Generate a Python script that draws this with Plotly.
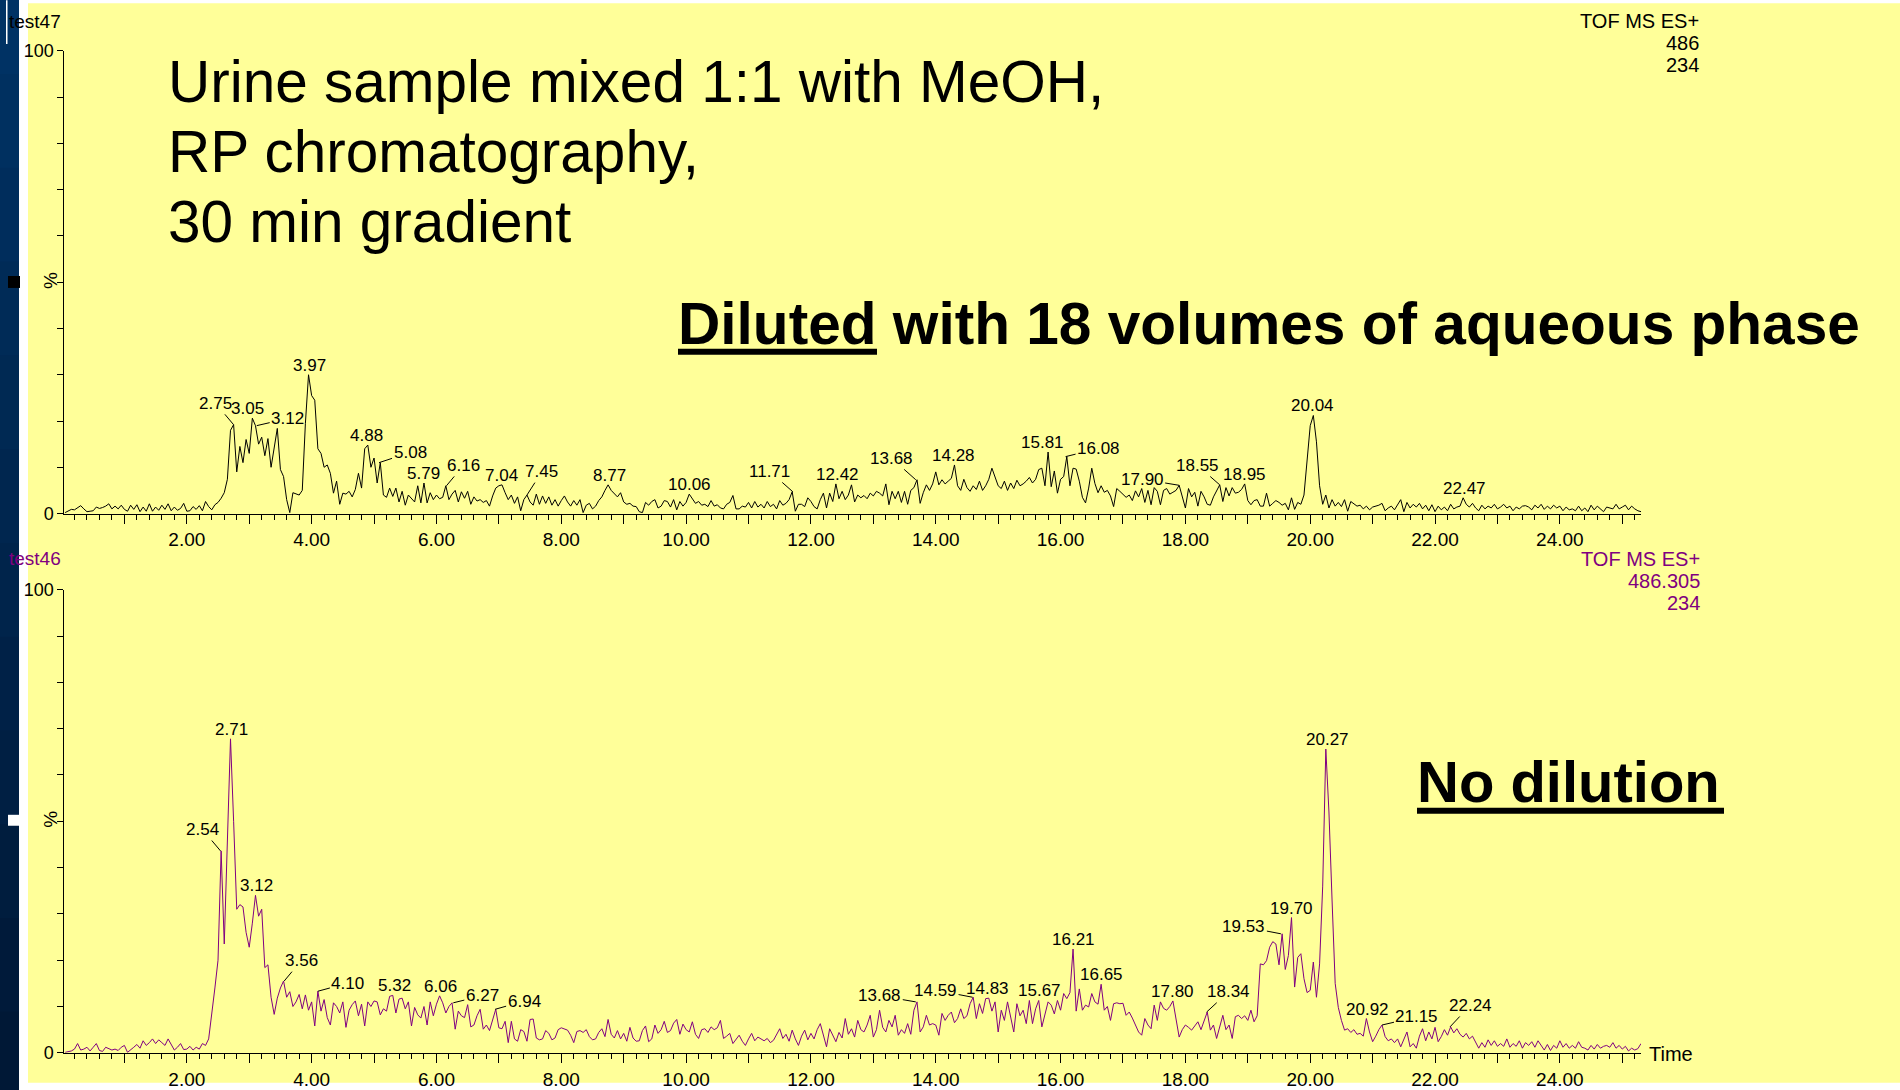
import plotly.graph_objects as go

W, H = 1900, 1090
# measured capture mapping of the page (screen_y = Y_OFF + Y_SCALE * layout_y); compensate it
Y_OFF, Y_SCALE = 9.9, 0.982


def px(x):
    return x / W


def py(y):
    return 1 - ((y - Y_OFF) / Y_SCALE) / H


# ---------------- DATA ----------------
T_START = 0.05
T_STEP = 0.05

# test47 (diluted 1:18) relative intensity, %  (t = 0.05 ... 25.30 min)
top_signal = [
    0.2, 0.5, 0.9, 0.8, 1.2, 1.7, 1.0, 0.4, 0.5, 0.6, 1.4, 1.1, 1.3, 1.6, 2.1, 1.0, 1.6, 1.0, 1.8, 0.9,
    0.5, 1.8, 0.9, 1.9, 0.4, 1.4, 0.5, 2.1, 0.5, 1.4, 0.7, 1.8, 0.9, 2.1, 0.6, 1.4, 0.7, 1.1, 2.2, 0.5,
    0.6, 1.5, 0.9, 1.7, 0.6, 2.6, 1.5, 0.8, 1.9, 2.4, 3.3, 4.5, 7.4, 18.0, 19.2, 9.0, 14.5, 11.0, 16.0, 13.0,
    20.6, 19.0, 15.0, 16.5, 12.5, 16.2, 10.0, 14.0, 18.4, 9.5, 8.0, 3.0, 0.2, 4.5, 4.2, 4.0, 5.0, 19.5, 30.0, 25.5,
    24.5, 14.0, 13.0, 10.0, 10.5, 8.7, 4.4, 7.0, 2.0, 4.4, 4.2, 4.8, 3.6, 5.2, 8.7, 5.5, 14.0, 14.8, 10.0, 12.0,
    6.6, 11.0, 4.0, 3.5, 5.5, 3.7, 5.5, 2.5, 4.8, 1.8, 4.0, 3.2, 2.5, 6.0, 2.3, 6.6, 2.3, 4.5, 3.0, 4.0,
    3.2, 3.5, 6.0, 3.0, 4.2, 5.0, 2.5, 4.7, 3.3, 4.8, 2.0, 3.6, 2.7, 3.0, 2.4, 2.8, 1.6, 3.8, 5.5, 6.0,
    6.2, 4.5, 3.0, 4.0, 2.2, 3.6, 0.6, 3.0, 4.0, 2.5, 1.8, 4.2, 2.0, 3.8, 2.2, 3.6, 1.8, 3.0, 1.6, 2.8,
    3.8, 2.5, 1.6, 2.8, 1.8, 3.0, 0.2, 1.8, 2.2, 1.0, 1.6, 2.8, 3.6, 5.0, 6.2, 5.0, 4.2, 3.6, 4.5, 2.5,
    2.0, 2.2, 1.6, 1.5, 0.4, 0.2, 2.4, 1.8, 2.6, 3.0, 1.2, 1.6, 2.8, 2.6, 1.4, 3.0, 0.8, 2.6, 1.6, 2.4,
    4.2, 3.2, 2.2, 2.6, 1.8, 2.0, 1.5, 2.8, 1.6, 1.9, 1.2, 1.0, 2.0, 2.4, 3.9, 1.0, 1.0, 1.6, 1.4, 2.4,
    1.2, 2.6, 1.4, 2.0, 1.2, 2.6, 1.5, 2.0, 1.0, 2.8, 1.8, 2.2, 3.0, 4.7, 0.5, 2.0, 2.0, 1.5, 3.4, 2.6,
    1.5, 1.0, 3.0, 4.4, 1.2, 4.4, 2.6, 6.4, 3.2, 4.8, 3.0, 4.0, 6.2, 2.5, 4.0, 3.4, 3.9, 3.2, 4.4, 3.8,
    4.8, 4.4, 3.8, 6.4, 1.9, 4.8, 3.2, 4.8, 2.4, 4.8, 2.0, 5.0, 5.6, 7.3, 2.2, 4.5, 6.2, 5.0, 6.4, 9.0,
    6.2, 7.3, 6.4, 7.0, 7.6, 10.5, 6.0, 5.0, 7.4, 5.6, 4.8, 6.0, 5.2, 7.0, 5.0, 6.0, 7.4, 9.8, 8.0, 6.0,
    5.4, 7.0, 5.0, 6.6, 5.4, 7.2, 6.0, 6.4, 7.0, 7.8, 6.6, 7.4, 9.5, 9.8, 6.0, 13.3, 5.8, 9.2, 4.4, 7.4,
    8.0, 12.3, 6.0, 9.8, 9.6, 7.0, 3.5, 2.3, 5.5, 9.8, 6.5, 4.5, 6.0, 4.6, 5.0, 3.8, 1.5, 5.4, 4.8, 4.2,
    3.5, 4.0, 2.8, 4.9, 3.6, 5.4, 2.4, 5.0, 1.9, 5.6, 4.8, 1.9, 5.0, 5.4, 4.2, 4.6, 5.0, 6.1, 3.8, 1.2,
    5.4, 3.6, 4.6, 1.6, 4.8, 3.6, 2.0, 1.8, 3.6, 4.8, 6.2, 2.6, 5.6, 3.8, 5.6, 4.4, 4.6, 5.2, 6.4, 2.8,
    1.9, 2.8, 3.0, 1.6, 1.6, 4.4, 1.6, 2.2, 2.8, 2.4, 1.8, 2.2, 0.8, 3.4, 0.9, 2.4, 2.0, 4.0, 12.0, 19.0,
    21.2, 15.5, 6.0, 2.0, 4.0, 1.2, 3.0, 1.6, 2.4, 1.5, 3.0, 0.5, 2.6, 2.0, 1.6, 1.8, 1.0, 1.6, 0.8, 1.4,
    1.6, 1.8, 2.2, 0.6, 1.2, 1.6, 0.8, 1.8, 3.0, 0.4, 2.4, 1.2, 2.0, 1.4, 2.2, 1.0, 1.8, 0.6, 1.9, 0.4,
    1.6, 0.8, 1.4, 0.6, 2.0, 1.0, 1.4, 1.6, 3.4, 2.0, 1.4, 2.2, 1.2, 0.6, 1.8, 1.0, 1.6, 1.2, 2.0, 1.0,
    1.4, 2.0, 1.2, 1.6, 0.6, 1.4, 1.0, 1.6, 1.7, 1.4, 0.8, 1.8, 1.2, 2.0, 0.9, 1.6, 1.0, 1.8, 1.2, 1.6,
    0.6, 1.4, 0.8, 1.0, 0.6, 1.6, 0.6, 1.2, 0.4, 1.8, 0.8, 1.6, 0.9, 0.4, 1.4, 1.2, 1.0, 2.0, 1.0, 1.4,
    1.8, 0.8, 1.6, 1.0, 0.6, 0.4,
]

# test46 (no dilution) relative intensity, %
bottom_signal = [
    0.1, 0.3, 0.4, 0.8, 2.0, 0.6, 0.8, 1.2, 0.4, 1.2, 2.0, 0.5, 0.3, 1.2, 0.9, 0.6, 0.8, 0.5, 1.2, 1.6,
    0.1, 0.6, 1.2, 1.8, 1.0, 2.6, 1.6, 2.2, 3.0, 2.0, 2.8, 2.2, 1.6, 3.0, 1.8, 0.6, 1.2, 2.0, 0.7, 0.8,
    1.4, 0.6, 1.2, 0.8, 2.0, 1.6, 3.0, 8.0, 14.0, 20.0, 43.6, 23.5, 46.0, 67.8, 50.0, 31.0, 32.0, 31.5, 26.0, 22.8,
    28.0, 34.0, 29.5, 31.0, 18.4, 19.0, 12.0, 8.3, 11.8, 14.0, 15.5, 12.0, 13.2, 10.0, 11.0, 12.6, 9.5, 12.5, 9.2, 11.0,
    5.8, 13.3, 9.0, 11.5, 7.6, 6.0, 10.8, 10.0, 8.6, 11.0, 5.5, 9.2, 10.4, 11.2, 8.0, 10.5, 5.8, 11.0, 10.0, 11.2,
    11.0, 8.2, 9.5, 9.0, 12.2, 12.4, 8.6, 11.6, 11.8, 9.5, 11.0, 5.8, 9.8, 8.2, 7.5, 10.0, 6.0, 11.0, 8.0, 10.5,
    12.3, 10.8, 8.6, 10.0, 10.8, 5.1, 9.0, 8.0, 7.6, 10.4, 5.6, 6.0, 8.0, 9.4, 5.1, 6.0, 4.8, 7.0, 9.4, 5.4,
    5.2, 6.8, 2.2, 6.8, 3.0, 2.5, 5.0, 4.6, 2.5, 7.2, 7.3, 3.2, 2.8, 3.0, 4.8, 4.2, 2.8, 3.2, 5.0, 5.4,
    5.2, 4.9, 3.8, 2.2, 4.6, 4.8, 4.4, 5.0, 3.5, 2.8, 3.0, 4.4, 5.2, 3.5, 7.2, 4.0, 3.2, 4.8, 3.0, 4.2,
    2.5, 5.5, 3.2, 2.5, 2.6, 4.8, 5.8, 2.4, 3.0, 6.0, 4.2, 5.0, 6.8, 4.4, 4.8, 6.4, 7.2, 4.0, 6.2, 5.0,
    4.5, 6.7, 4.0, 3.1, 5.0, 5.2, 4.4, 5.6, 5.0, 5.4, 7.0, 3.1, 3.6, 4.2, 2.0, 3.0, 3.8, 2.5, 1.6, 3.0,
    4.2, 2.6, 3.4, 3.0, 2.6, 3.1, 2.2, 2.7, 4.0, 5.2, 3.1, 4.0, 2.5, 4.9, 3.0, 1.6, 3.6, 4.9, 2.8, 4.2,
    3.0, 5.0, 6.3, 3.5, 1.3, 5.2, 3.8, 2.4, 4.4, 3.2, 7.4, 4.0, 5.2, 3.4, 7.0, 5.0, 4.5, 6.0, 8.1, 3.4,
    5.0, 9.2, 5.5, 4.5, 7.0, 5.6, 8.1, 3.8, 5.0, 4.2, 6.3, 4.0, 9.2, 11.0, 4.5, 5.6, 8.1, 6.0, 6.3, 6.0,
    3.8, 8.5, 7.0, 8.1, 8.8, 6.5, 7.4, 9.5, 7.4, 8.0, 10.6, 12.0, 7.4, 10.6, 8.5, 11.7, 11.8, 9.0, 11.0, 4.5,
    9.2, 7.0, 11.0, 8.1, 4.5, 10.6, 8.0, 9.2, 6.3, 11.3, 6.3, 9.5, 11.3, 5.6, 8.6, 11.0, 10.3, 8.4, 11.3, 9.2,
    12.8, 11.7, 13.0, 22.4, 9.0, 13.8, 9.2, 10.3, 9.9, 12.8, 11.0, 10.5, 14.8, 9.2, 10.0, 7.0, 10.6, 10.8, 10.6, 10.7,
    8.1, 8.8, 7.5, 6.0, 4.5, 3.8, 7.4, 6.0, 5.2, 10.3, 7.0, 11.0, 9.6, 9.2, 10.0, 11.2, 7.0, 3.4, 5.0, 6.0,
    5.5, 4.9, 5.8, 6.7, 5.0, 7.0, 8.8, 4.9, 6.0, 3.1, 5.5, 8.1, 5.0, 6.0, 3.1, 7.8, 8.1, 7.4, 8.0, 7.0,
    9.2, 6.7, 8.0, 19.2, 19.0, 19.9, 22.8, 24.0, 23.5, 19.0, 25.7, 18.0, 21.0, 29.2, 14.2, 20.6, 21.4, 16.0, 13.0, 13.5,
    19.6, 12.0, 19.2, 36.0, 65.6, 52.0, 33.0, 15.0, 9.8, 7.0, 4.9, 5.2, 4.4, 5.0, 4.0, 4.2, 3.6, 7.4, 4.5, 2.4,
    3.6, 5.0, 6.0, 3.5, 2.6, 3.0, 2.2, 3.0, 1.3, 3.0, 4.5, 1.3, 2.0, 1.0, 3.6, 5.2, 2.6, 4.5, 3.0, 5.5,
    2.4, 3.5, 5.0, 3.8, 5.6, 4.3, 5.2, 4.0, 3.4, 4.2, 3.0, 3.6, 2.4, 1.0, 2.2, 1.2, 2.8, 1.6, 2.6, 1.4,
    2.0, 1.4, 3.0, 1.2, 2.0, 1.4, 2.6, 1.0, 2.2, 1.6, 2.4, 1.2, 2.6, 1.5, 0.6, 1.8, 0.5, 1.6, 1.0, 2.6,
    1.2, 2.0, 1.0, 1.6, 1.0, 2.4, 1.2, 1.0, 0.6, 1.6, 0.8, 1.8, 1.0, 1.4, 1.6, 1.2, 2.2, 1.0, 1.6, 0.8,
    1.4, 0.4, 1.0, 0.6, 0.9, 2.0,
]

assert len(top_signal) == len(bottom_signal) == 506, (len(top_signal), len(bottom_signal))

times = [round(T_START + T_STEP * i, 2) for i in range(len(top_signal))]

top_peak_labels = ["2.75", "3.05", "3.12", "3.97", "4.88", "5.08", "5.79", "6.16", "7.04",
                   "7.45", "8.77", "10.06", "11.71", "12.42", "13.68", "14.28", "15.81",
                   "16.08", "17.90", "18.55", "18.95", "20.04", "22.47"]
bottom_peak_labels = ["2.54", "2.71", "3.12", "3.56", "4.10", "5.32", "6.06", "6.27", "6.94",
                      "13.68", "14.59", "14.83", "15.67", "16.21", "16.65", "17.80", "18.34",
                      "19.53", "19.70", "20.27", "20.92", "21.15", "22.24"]

x_tick_values = list(range(1, 26))
x_tick_text = [f"{v:.2f}" if v % 2 == 0 else "" for v in x_tick_values]
y_tick_values = list(range(0, 101, 10))
y_tick_text = ["0"] + [""] * 9 + ["100"]

# ---------------- STYLE / POSITIONS ----------------
FONT = "Liberation Sans, Arial, sans-serif"
YELLOW = "#FFFF99"
PURPLE = "#800080"

# leader-line label offsets (pixels, label centre relative to peak)
top_leaders = {"2.75": (-18, -21), "3.12": (31, -7), "5.08": (31, -10), "6.16": (17, -20),
               "7.45": (15, -23), "11.71": (-23, -20), "13.68": (-24, -21), "16.08": (33, -8),
               "17.90": (-37, -6), "18.55": (-22, -19)}
top_xshift = {"3.05": -5, "15.81": -6}
bottom_leaders = {"2.54": (-18, -21), "3.56": (17, -20), "4.10": (30, -8), "6.27": (29, -7),
                  "6.94": (29, -8), "13.68": (-36, -6), "14.59": (-37, -7), "18.34": (22, -20),
                  "19.53": (-37, -7), "21.15": (35, -8), "22.24": (20, -21)}

X_DOMAIN = [px(64.3), px(1641)]
X_RANGE = [0.037, 25.30]
TOP_DOMAIN = [py(515.5), py(51)]
BOT_DOMAIN = [py(1057), py(592)]

fig = go.Figure()
fig.add_trace(go.Scatter(x=times, y=top_signal, mode="lines", xaxis="x", yaxis="y",
                         line=dict(color="black", width=1), hoverinfo="skip"))
fig.add_trace(go.Scatter(x=times, y=bottom_signal, mode="lines", xaxis="x2", yaxis="y2",
                         line=dict(color=PURPLE, width=1), hoverinfo="skip"))


def xaxis_cfg():
    return dict(domain=X_DOMAIN, range=X_RANGE, showline=True, linecolor="black", linewidth=1,
                ticks="outside", tickmode="array", tickvals=x_tick_values, ticktext=x_tick_text,
                ticklen=9, tickwidth=1, tickcolor="black",
                tickfont=dict(family=FONT, size=19, color="black"),
                showgrid=False, zeroline=False, fixedrange=True,
                minor=dict(dtick=0.2, tick0=0, ticks="outside", ticklen=5, tickwidth=1,
                           tickcolor="black", showgrid=False))


def yaxis_cfg(domain, anchor):
    return dict(domain=domain, range=[0, 100], anchor=anchor, showline=True, linecolor="black",
                linewidth=1, ticks="outside", tickmode="array", tickvals=y_tick_values,
                ticktext=y_tick_text, ticklen=6, tickwidth=1, tickcolor="black",
                tickfont=dict(family=FONT, size=18, color="black"),
                showgrid=False, zeroline=False, fixedrange=True)


annotations = []


def value_at(series, t):
    idx = int(round((t - T_START) / T_STEP))
    return series[idx]


def add_peak_labels(labels, series, xref, yref, leaders, xshifts):
    for lab in labels:
        t = float(lab)
        v = value_at(series, t)
        if lab in leaders:
            ax, ay = leaders[lab]
            annotations.append(dict(x=t, y=v, xref=xref, yref=yref, text=lab, showarrow=True,
                                    ax=ax, ay=ay / Y_SCALE, arrowhead=0, arrowwidth=1,
                                    arrowcolor="black", standoff=0, startstandoff=0,
                                    font=dict(family=FONT, size=17, color="black")))
        else:
            annotations.append(dict(x=t, y=v, xref=xref, yref=yref, text=lab, showarrow=False,
                                    yanchor="bottom", yshift=-2, xshift=xshifts.get(lab, 0),
                                    font=dict(family=FONT, size=17, color="black")))


add_peak_labels(top_peak_labels, top_signal, "x", "y", top_leaders, top_xshift)
add_peak_labels(bottom_peak_labels, bottom_signal, "x2", "y2", bottom_leaders, {})


def paper_text(text, x, y, size, color="black", xanchor="left", yanchor="middle", angle=0):
    annotations.append(dict(x=px(x), y=py(y), xref="paper", yref="paper", text=text,
                            showarrow=False, xanchor=xanchor, yanchor=yanchor, textangle=angle,
                            font=dict(family=FONT, size=size, color=color)))


# headline text
paper_text("Urine sample mixed 1:1 with MeOH,", 166, 82, 58.5)
paper_text("RP chromatography,", 166, 152, 58.5)
paper_text("30 min gradient", 166, 222, 58.5)
paper_text("<b>Diluted with 18 volumes of aqueous phase</b>", 676, 325, 58.6)
paper_text("<b>No dilution</b>", 1415, 785, 58)

# trace headers
paper_text("test47", 7, 21, 19)
paper_text("test46", 7, 561, 19, color=PURPLE)
paper_text("TOF MS ES+", 1701, 21, 20, xanchor="right")
paper_text("486", 1701, 43, 20, xanchor="right")
paper_text("234", 1701, 65, 20, xanchor="right")
paper_text("TOF MS ES+", 1702, 561, 20, color=PURPLE, xanchor="right")
paper_text("486.305", 1702, 583, 20, color=PURPLE, xanchor="right")
paper_text("234", 1702, 605, 20, color=PURPLE, xanchor="right")

# axis titles
paper_text("%", 51, 282, 19, xanchor="center", angle=-90)
paper_text("%", 51, 823, 19, xanchor="center", angle=-90)
paper_text("Time", 1671, 1058, 20, xanchor="center")

# ---------------- slide decoration shapes ----------------
shapes = []


def rect(x0, y0, x1, y1, color, layer="below"):
    shapes.append(dict(type="rect", xref="paper", yref="paper", x0=px(x0), x1=px(x1),
                       y0=py(y1), y1=py(y0), fillcolor=color, line=dict(width=0), layer=layer))


rect(28, 3, 1900, 1087, YELLOW)
n_band = 12
c_top = (0, 50, 100)
c_bot = (0, 24, 54)
for i in range(n_band):
    f = i / (n_band - 1)
    c = tuple(round(c_top[k] + (c_bot[k] - c_top[k]) * f) for k in range(3))
    rect(0, -20 + 1130 * i / n_band, 19, -20 + 1130 * (i + 1) / n_band + 1, f"rgb{c}")
rect(6, 0, 7.5, 44, "white")
rect(8, 277, 20, 289, "black")
rect(8, 818, 20, 829, "white")
# heading underlines
rect(678, 350, 877, 356, "black", layer="above")
rect(1417, 811, 1724, 817, "black", layer="above")

fig.update_layout(
    width=W, height=H, margin=dict(l=0, r=0, t=0, b=0),
    paper_bgcolor="white", plot_bgcolor=YELLOW, showlegend=False,
    xaxis=dict(**xaxis_cfg(), anchor="y"),
    yaxis=yaxis_cfg(TOP_DOMAIN, "x"),
    xaxis2=dict(**xaxis_cfg(), anchor="y2"),
    yaxis2=yaxis_cfg(BOT_DOMAIN, "x2"),
    annotations=annotations,
    shapes=shapes,
    font=dict(family=FONT, color="black"),
)

POST = (
    "document.documentElement.style.margin='0';"
    "document.documentElement.style.overflow='hidden';"
    "document.body.style.margin='0';document.body.style.padding='0';"
    "document.body.style.overflow='hidden';"
    "var gd=document.getElementById('{plot_id}');"
    "gd.style.position='absolute';gd.style.left='0px';gd.style.top='0px';"
)

fig.write_html("out.html", config={"displayModeBar": False}, post_script=POST)
